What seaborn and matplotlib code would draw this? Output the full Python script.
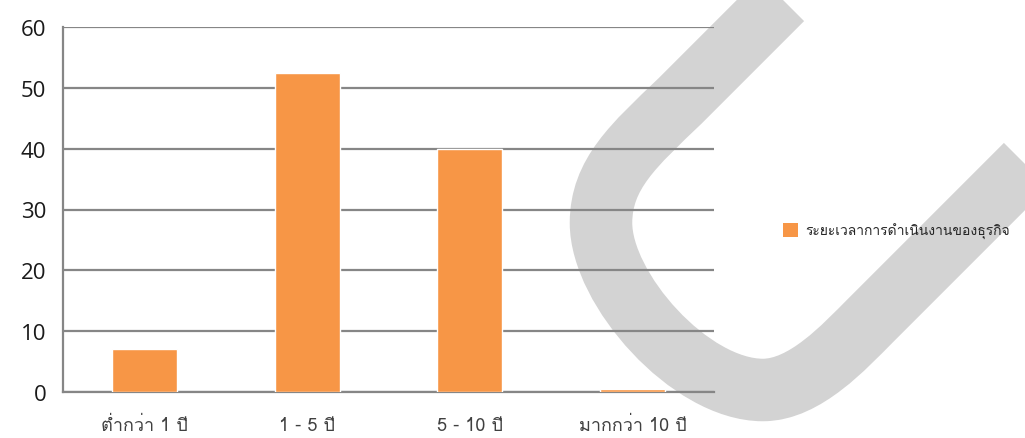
import matplotlib
matplotlib.use('Agg')
import matplotlib.pyplot as plt
from matplotlib import font_manager
from matplotlib.ft2font import FT2Font
from matplotlib.path import Path
from matplotlib.patches import PathPatch, Patch
import seaborn as sns
import pandas as pd

# data
categories = ['ต่ำกว่า 1 ปี', '1 - 5 ปี', '5 - 10 ปี', 'มากกว่า 10 ปี']
values = [7.0, 52.4, 40.0, 0.5]
series_name = 'ระยะเวลาการดำเนินงานของธุรกิจ'
y_ticks = [0, 10, 20, 30, 40, 50, 60]

df = pd.DataFrame({'category': categories, 'value': values})

sns.set_style('white')

# look for an installed font that has Thai glyphs
thai_font = None
for f in font_manager.fontManager.ttflist:
    try:
        if 0x0E01 in FT2Font(f.fname).get_charmap():
            thai_font = f.name
            break
    except Exception:
        pass
families = ([thai_font] if thai_font else []) + ['DejaVu Sans']
plt.rcParams['font.family'] = families

fig = plt.figure(figsize=(10.25, 4.39), dpi=100)
fig.patch.set_facecolor('white')

# grey watermark stroke behind the chart (pixel coords of the figure)
bg = fig.add_axes([0, 0, 1, 1], zorder=0)
bg.set_xlim(0, 1025)
bg.set_ylim(439, 0)
bg.axis('off')
verts = [(812, -30), (680, 102),
         (634, 146), (601, 175), (601, 224),
         (601, 290), (690, 391), (763, 391),
         (805, 391), (845, 347), (870, 322),
         (1070, 122)]
codes = [Path.MOVETO, Path.LINETO,
         Path.CURVE4, Path.CURVE4, Path.CURVE4,
         Path.CURVE4, Path.CURVE4, Path.CURVE4,
         Path.CURVE4, Path.CURVE4, Path.CURVE4,
         Path.LINETO]
bg.add_patch(PathPatch(Path(verts, codes), facecolor='none', edgecolor='#d3d3d3',
                       linewidth=45, capstyle='butt', joinstyle='round'))

ax = fig.add_axes([63 / 1025, 46 / 439, 651 / 1025, 365 / 439], zorder=1)
ax.set_facecolor('none')

sns.barplot(data=df, x='category', y='value', ax=ax, color='#F79646',
            saturation=1, width=0.4, zorder=3)

ax.set_xlim(-0.5, 3.5)
ax.set_ylim(0, 60)
ax.set_yticks(y_ticks)
ax.yaxis.grid(True, color='#868686', linewidth=1.6, zorder=1)
ax.set_axisbelow(True)
ax.set_xlabel('')
ax.set_ylabel('')

for side in ['top', 'right']:
    ax.spines[side].set_visible(False)
for side in ['left', 'bottom']:
    ax.spines[side].set_color('#868686')
    ax.spines[side].set_linewidth(1.6)

ax.set_xticks([-0.5, 0.5, 1.5, 2.5, 3.5], minor=True)
ax.tick_params(axis='x', which='minor', length=8, width=1.6, color='#868686', direction='out')
ax.tick_params(axis='x', which='major', length=0, labelsize=13, labelcolor='#404040', pad=17)
ax.tick_params(axis='y', length=8, width=1.6, color='#868686', direction='out',
               labelsize=16, labelcolor='#1a1a1a', pad=4)
for lab in ax.get_yticklabels():
    lab.set_family('Open Sans')

handle = Patch(facecolor='#F79646', edgecolor='none')
fig.legend([handle], [series_name], loc='center left', bbox_to_anchor=(0.764, 0.472),
           frameon=False, borderpad=0, borderaxespad=0,
           handlelength=1.1, handleheight=1.1, handletextpad=0.5, fontsize=10,
           labelcolor='#262626')

fig.savefig('out.png', dpi=100)
